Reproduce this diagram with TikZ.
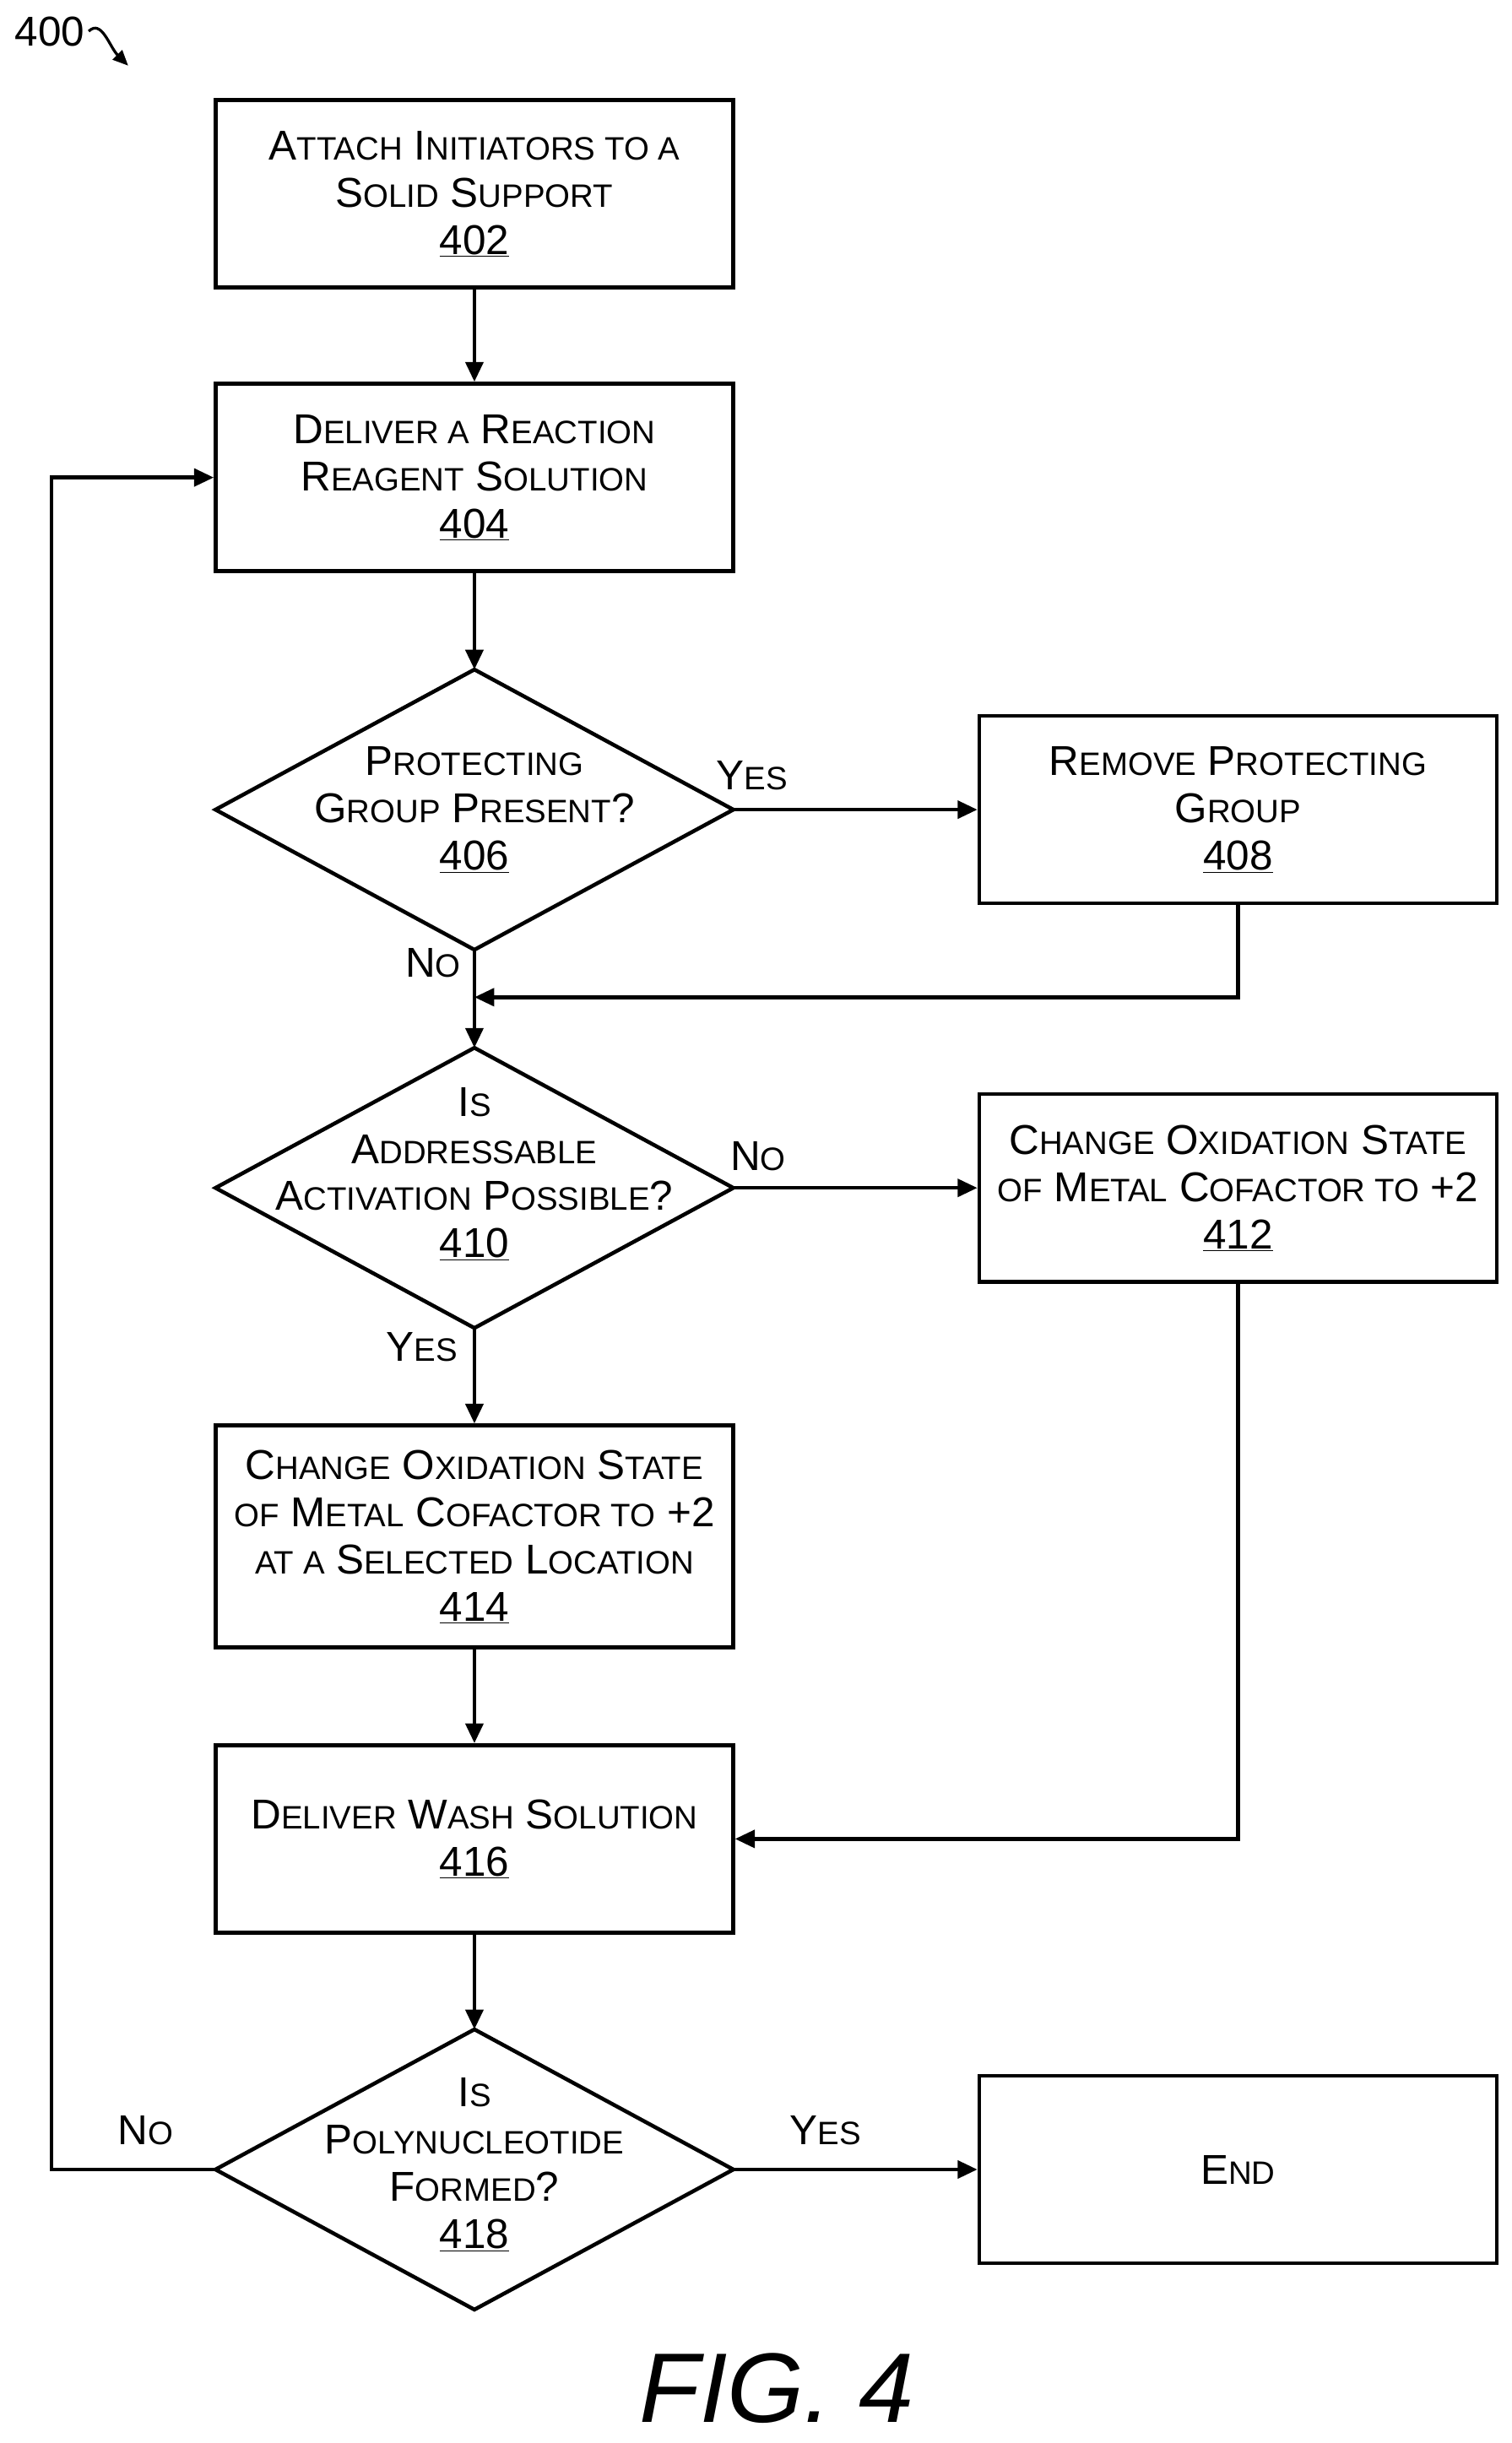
\documentclass[tikz,border=0pt]{standalone}
\usepackage{fontspec}
\setmainfont{Liberation Sans}
\usetikzlibrary{arrows.meta}
\newcommand\sm[1]{{\fontsize{29.5}{43}\selectfont #1}}
\begin{document}
\begin{tikzpicture}[x=0.05cm,y=-0.05cm,
  every node/.style={font=\fontsize{38}{43}\selectfont},
  box/.style={draw,line width=3.5pt,minimum width=331*0.05cm,minimum height=120*0.05cm,align=center,inner sep=0},
  dia/.style={minimum width=331*0.05cm,minimum height=179*0.05cm,align=center,inner sep=0},
  ln/.style={line width=3.5pt},
  ar/.style={line width=3.5pt,-{Triangle[length=18pt,width=16pt]}},
  lab/.style={font=\fontsize{38}{43}\selectfont}]
\useasboundingbox (0,0) rectangle (967,1563);
\node[box] (n402) at (303.5,124) {A\sm{TTACH} I\sm{NITIATORS TO A}\\S\sm{OLID} S\sm{UPPORT}\\\underline{402}};
\node[box] (n404) at (303.5,305.5) {D\sm{ELIVER A} R\sm{EACTION}\\R\sm{EAGENT} S\sm{OLUTION}\\\underline{404}};
\node[dia] (n406) at (303.5,518) {P\sm{ROTECTING}\\G\sm{ROUP} P\sm{RESENT}?\\\underline{406}};
\node[box] (n408) at (792,518) {R\sm{EMOVE} P\sm{ROTECTING}\\G\sm{ROUP}\\\underline{408}};
\node[dia] (n410) at (303.5,760) {};
\node[align=center] (t410) at (303.5,751) {I\sm{S}\\A\sm{DDRESSABLE}\\A\sm{CTIVATION} P\sm{OSSIBLE}?\\\underline{410}};
\node[box] (n412) at (792,760) {C\sm{HANGE} O\sm{XIDATION} S\sm{TATE}\\\sm{OF} M\sm{ETAL} C\sm{OFACTOR TO} +2\\\underline{412}};
\node[box,minimum height=142*0.05cm] (n414) at (303.5,983) {C\sm{HANGE} O\sm{XIDATION} S\sm{TATE}\\\sm{OF} M\sm{ETAL} C\sm{OFACTOR TO} +2\\\sm{AT A} S\sm{ELECTED} L\sm{OCATION}\\\underline{414}};
\node[box] (n416) at (303.5,1176.5) {D\sm{ELIVER} W\sm{ASH} S\sm{OLUTION}\\\underline{416}};
\node[dia] (n418) at (303.5,1388) {};
\node[align=center] (t418) at (303.5,1385) {I\sm{S}\\P\sm{OLYNUCLEOTIDE}\\F\sm{ORMED}?\\\underline{418}};
\node[box] (nend) at (792,1388) {E\sm{ND}};
\foreach \d in {n406,n410,n418}
  \draw[ln,line join=miter] (\d.north) -- (\d.east) -- (\d.south) -- (\d.west) -- cycle;
\coordinate (m) at (303.5,638);
\coordinate (l1) at (33,1388);
\coordinate (l2) at (33,305.5);
\draw[ar] (n402) -- (n404);
\draw[ar] (n404) -- (n406.north);
\draw[ar] (n406.east) -- (n408);
\draw[ln] (n406.south) -- (m);
\draw[ar] (n408.south) |- (m);
\draw[ar] (m) -- (n410.north);
\draw[ar] (n410.east) -- (n412);
\draw[ar] (n410.south) -- (n414);
\draw[ar] (n414) -- (n416);
\draw[ar] (n412.south) |- (n416.east);
\draw[ar] (n416) -- (n418.north);
\draw[ar] (n418.east) -- (nend);
\draw[ar] (n418.west) -- (l1) -- (l2) -- (n404.west);
\node[lab] (y1) at (481,496) {Y\sm{ES}};
\node[lab] (o1) at (277,616) {N\sm{O}};
\node[lab] (o2) at (485,740) {N\sm{O}};
\node[lab] (y2) at (270,862) {Y\sm{ES}};
\node[lab] (o3) at (93,1363) {N\sm{O}};
\node[lab] (y3) at (528,1363) {Y\sm{ES}};
\node[lab] (t400) at (32,20) {400};
\coordinate (a400) at (82,42);
\draw[line width=2.5pt,-{Triangle[length=14pt,width=12pt]}] (t400.east) .. controls (65,12) and (70,30) .. (a400);
\node[font=\fontsize{90}{100}\itshape\selectfont] (fig) at (497,1528) {FIG. 4};
\end{tikzpicture}
\end{document}
